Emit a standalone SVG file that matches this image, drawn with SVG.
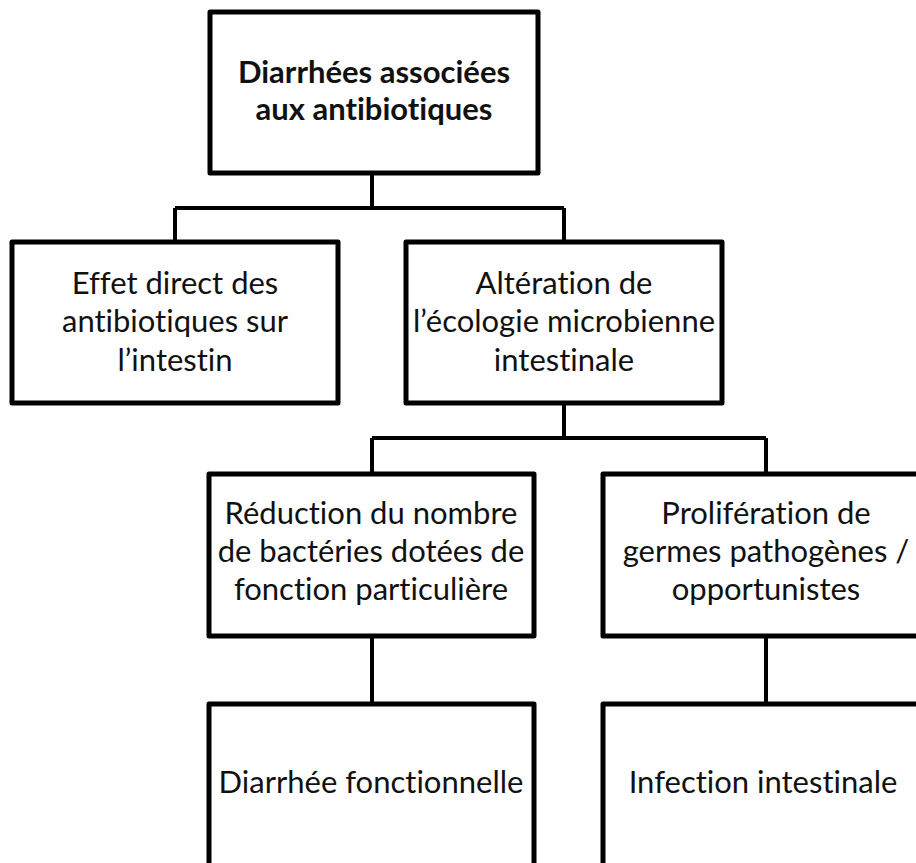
<svg xmlns="http://www.w3.org/2000/svg" width="916" height="863" viewBox="0 0 916 863">
<style>
.box{fill:#fff;stroke:#000;stroke-width:5;stroke-linejoin:round}
.ln{fill:none;stroke:#000;stroke-width:4}
text{font-family:Lato,"Open Sans","Liberation Sans",sans-serif;font-size:31px;fill:#111;text-anchor:middle;font-variant-ligatures:none}
.b{font-weight:bold;font-size:31px}
</style>
<rect width="916" height="863" fill="#fff"/>
<g id="connectors">
<path class="ln" d="M372 174V208M175 208H564M175 208V241M564 208V241"/>
<path class="ln" d="M564 403V438M372 438H766M372 438V473M766 438V473"/>
<path class="ln" d="M372 636V703M766 636V703"/>
</g>
<g id="n1">
<rect class="box" x="210" y="12" width="328" height="161"/>
<text class="b" x="374" y="83">Diarrhées associées</text>
<text class="b" x="374" y="120">aux antibiotiques</text>
</g>
<g id="n2">
<rect class="box" x="12" y="242" width="326" height="161"/>
<text x="175" y="294">Effet direct des</text>
<text x="175" y="332">antibiotiques sur</text>
<text x="175" y="371">l’intestin</text>
</g>
<g id="n3">
<rect class="box" x="406" y="242" width="316" height="161"/>
<text x="564" y="294">Altération de</text>
<text x="564" y="332">l’écologie microbienne</text>
<text x="564" y="371">intestinale</text>
</g>
<g id="n4">
<rect class="box" x="209" y="474" width="325" height="162"/>
<text x="371" y="524">Réduction du nombre</text>
<text x="371" y="562">de bactéries dotées de</text>
<text x="371" y="600">fonction particulière</text>
</g>
<g id="n5">
<rect class="box" x="603" y="474" width="330" height="162"/>
<text x="766" y="524">Prolifération de</text>
<text x="766" y="562">germes pathogènes /</text>
<text x="766" y="600">opportunistes</text>
</g>
<g id="n6">
<rect class="box" x="209" y="704" width="325" height="180"/>
<text x="371" y="793">Diarrhée fonctionnelle</text>
</g>
<g id="n7">
<rect class="box" x="603" y="704" width="330" height="180"/>
<text x="763" y="793">Infection intestinale</text>
</g>
</svg>
